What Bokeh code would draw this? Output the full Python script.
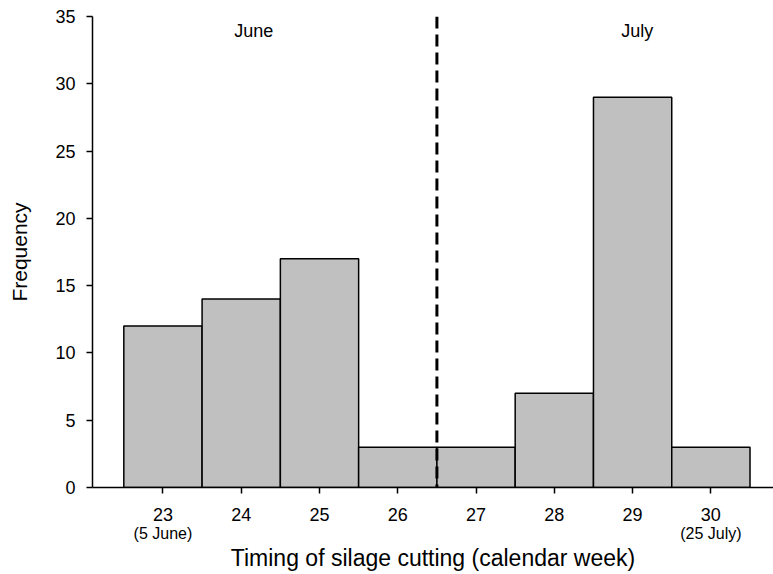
from bokeh.plotting import figure
from bokeh.models import Range1d, FixedTicker, Label, Span, LinearAxis
from bokeh.embed import file_html
from bokeh.resources import INLINE

# Histogram of silage cutting dates by calendar week
weeks = [23, 24, 25, 26, 27, 28, 29, 30]
frequency = [12, 14, 17, 3, 3, 7, 29, 3]
y_ticks = [0, 5, 10, 15, 20, 25, 30, 35]
date_ticks = [23, 30]
date_labels = ["(5 June)", "(25 July)"]
month_labels = [("June", 24.16), ("July", 29.06)]
month_split = 26.5

FONT = "Liberation Sans"

p = figure(width=773, height=574, output_backend="svg", toolbar_location=None,
           x_range=Range1d(22.1, 30.8), y_range=Range1d(0, 35),
           min_border_left=92, min_border_right=0, min_border_top=16, min_border_bottom=87)
p.outline_line_color = None
p.xgrid.visible = False
p.ygrid.visible = False

p.vbar(x=weeks, top=frequency, bottom=0, width=1.0,
       fill_color="#c0c0c0", line_color="black", line_width=1.5)

p.add_layout(Span(location=month_split, dimension="height", line_color="black",
                  line_width=3, line_dash="12 6"))

for text, xpos in month_labels:
    p.add_layout(Label(x=xpos, y=33.9, text=text, text_align="center",
                       text_baseline="alphabetic", text_font=FONT,
                       text_font_size="18px", text_color="black"))

# axes
p.xaxis.ticker = FixedTicker(ticks=weeks)
p.yaxis.ticker = FixedTicker(ticks=y_ticks)
for ax in (p.xaxis, p.yaxis):
    ax.minor_tick_line_color = None
    ax.major_tick_in = 0
    ax.major_tick_out = 6
    ax.axis_line_width = 1.5
    ax.major_tick_line_width = 1.5
    ax.major_label_text_font = FONT
    ax.major_label_text_font_size = "18px"
    ax.major_label_text_color = "black"
    ax.axis_label_text_font = FONT
    ax.axis_label_text_font_style = "normal"
    ax.axis_label_text_color = "black"

p.xaxis.major_label_standoff = 14
p.yaxis.major_label_standoff = 11
p.yaxis.axis_label = "Frequency"
p.yaxis.axis_label_text_font_size = "21px"
p.yaxis.axis_label_standoff = 21

# second row of x labels: calendar dates for the first and last week
dates_axis = LinearAxis(ticker=FixedTicker(ticks=date_ticks),
                        major_label_overrides={t: s for t, s in zip(date_ticks, date_labels)})
dates_axis.axis_line_color = None
dates_axis.major_tick_line_color = None
dates_axis.minor_tick_line_color = None
dates_axis.major_tick_in = 0
dates_axis.major_tick_out = 0
dates_axis.major_label_standoff = 1
dates_axis.major_label_text_font = FONT
dates_axis.major_label_text_font_size = "16px"
dates_axis.major_label_text_color = "black"
dates_axis.axis_label = "Timing of silage cutting (calendar week)"
dates_axis.axis_label_text_font = FONT
dates_axis.axis_label_text_font_style = "normal"
dates_axis.axis_label_text_font_size = "23px"
dates_axis.axis_label_text_color = "black"
dates_axis.axis_label_standoff = 0
p.add_layout(dates_axis, "below")

open("out.html", "w").write(file_html(p, INLINE))
